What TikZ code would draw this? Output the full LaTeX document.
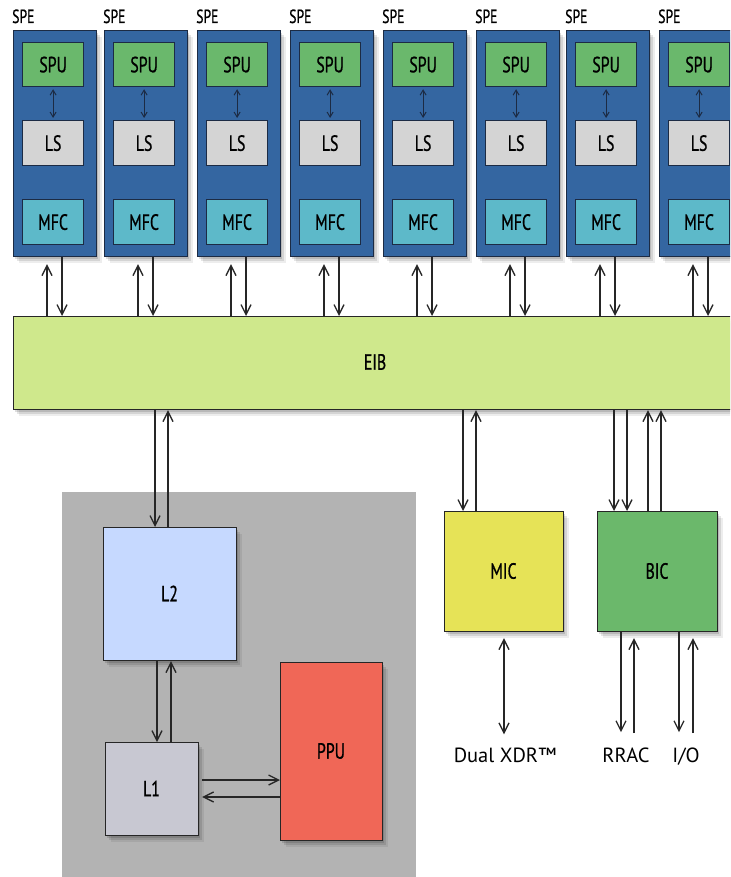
\documentclass[tikz,border=0pt]{standalone}
\usepackage{fontspec}
\setmainfont{PT Sans}
\newfontfamily\condf{PT Sans}[FakeStretch=0.72,FakeBold=0.8]
\usetikzlibrary{arrows.meta,shadows,calc}
\definecolor{speblue}{HTML}{3466A1}
\definecolor{speedge}{HTML}{1C2B44}
\definecolor{spugreen}{HTML}{6AB86C}
\definecolor{lsgray}{HTML}{D4D4D4}
\definecolor{mfccyan}{HTML}{5DB9C9}
\definecolor{eibgreen}{HTML}{CFE88C}
\definecolor{ppegray}{HTML}{B3B3B3}
\definecolor{ltwo}{HTML}{C6D9FF}
\definecolor{lone}{HTML}{C8C8D2}
\definecolor{ppured}{HTML}{F06757}
\definecolor{micyellow}{HTML}{E6E357}
\definecolor{bicgreen}{HTML}{6BB86B}
\begin{document}
\begin{tikzpicture}[x=1pt,y=-1pt,
  softshadow/.style={
    general shadow={shadow xshift=1.5pt,shadow yshift=-2pt,opacity=0.13,fill=black},
    general shadow={shadow xshift=3pt,shadow yshift=-4pt,opacity=0.10,fill=black},
    general shadow={shadow xshift=5pt,shadow yshift=-6pt,opacity=0.07,fill=black}},
  cf/.style={font=\condf\fontsize{22}{22}\selectfont},
  box/.style={draw=black!85,line width=1.2pt,inner sep=0pt,anchor=north west},
  spebox/.style={box,softshadow,fill=speblue,draw=speedge,minimum width=83pt,minimum height=226pt},
  inbox/.style={box,draw=speedge,minimum width=61pt,minimum height=45pt},
  arr/.style={line width=1.3pt,draw=black!85,-{Straight Barb[length=10pt,width=10pt]}},
  darr/.style={line width=1.3pt,draw=black!85,{Straight Barb[length=10pt,width=10pt]}-{Straight Barb[length=10pt,width=10pt]}},
  sarr/.style={line width=1pt,draw=speedge,{Straight Barb[length=5pt,width=6pt]}-{Straight Barb[length=5pt,width=6pt]}},
  lbl/.style={inner sep=0pt,anchor=base,font=\fontsize{20.5}{20.5}\selectfont}]
\clip (0,0) rectangle (730,877);
\fill[white] (0,0) rectangle (730,877);

% PPE region
\node[fill=ppegray,anchor=north west,inner sep=0pt,minimum width=354pt,minimum height=400pt] (ppe) at (62,492) {};

% EIB
\node[box,softshadow,fill=eibgreen,minimum width=724pt,minimum height=93pt] (eib) at (13,316) {};
\node[cf] (eibl) at (375,362) {EIB};

% SPEs
\foreach \x [count=\i] in {13,104,197,290,383,476,566,659}{
  \node[spebox] (spe\i) at (\x,30) {};
  \node[anchor=base west,inner sep=0pt,font=\condf\fontsize{19}{19}\selectfont] (spel\i) at ({\x-1},23) {SPE};
  \node[inbox,fill=spugreen,minimum height=44pt] (spu\i) at ({\x+9},42) {};
  \node[cf] at (spu\i.center) {SPU};
  \node[inbox,fill=lsgray] (ls\i) at ({\x+9},120) {};
  \node[cf] at (ls\i.center) {LS};
  \node[inbox,fill=mfccyan] (mfc\i) at ({\x+9},199) {};
  \node[cf] at (mfc\i.center) {MFC};
  \draw[sarr,shorten <=2pt,shorten >=2pt] (spu\i.south) -- (ls\i.north);
  \coordinate (up\i) at ({\x+34},0);
  \coordinate (dn\i) at ({\x+49},0);
  \draw[arr,shorten >=7pt] (eib.north -| up\i) -- (spe\i.south -| up\i);
  \draw[arr] (spe\i.south -| dn\i) -- (eib.north -| dn\i);
}

% PPE internals
\node[box,softshadow,fill=ltwo,minimum width=133pt,minimum height=133pt] (l2) at (103,527) {};
\node[cf] at (169.5,593.5) {L2};
\node[box,softshadow,fill=lone,minimum width=93pt,minimum height=93pt] (l1) at (105,742) {};
\node[cf] at (151.5,788.5) {L1};
\node[box,softshadow,fill=ppured,minimum width=102pt,minimum height=178pt] (ppu) at (280,662) {};
\node[cf] at (331,751) {PPU};

% MIC, BIC
\node[box,softshadow,fill=micyellow,minimum width=119pt,minimum height=120pt] (mic) at (444,511) {};
\node[cf] at (503.5,571) {MIC};
\node[box,softshadow,fill=bicgreen,minimum width=120pt,minimum height=120pt] (bic) at (597,511) {};
\node[cf] at (657,571) {BIC};

% bottom labels
\node[lbl] (xdr) at (505,762) {Dual XDR™};
\node[lbl] (rrac) at (626,762) {RRAC};
\node[lbl] (io) at (686,762) {I/O};

% EIB <-> L2
\coordinate (a1) at (155,0); \coordinate (a2) at (168,0);
\draw[arr] (eib.south -| a1) -- (l2.north -| a1);
\draw[arr] (l2.north -| a2) -- (eib.south -| a2);
% L2 <-> L1
\coordinate (b1) at (157,0); \coordinate (b2) at (171,0);
\draw[arr] (l2.south -| b1) -- (l1.north -| b1);
\draw[arr] (l1.north -| b2) -- (l2.south -| b2);
% L1 <-> PPU
\coordinate (c1) at (0,780); \coordinate (c2) at (0,797);
\draw[arr,shorten <=3pt] (l1.east |- c1) -- (ppu.west |- c1);
\draw[arr,shorten >=3pt] (ppu.west |- c2) -- (l1.east |- c2);
% EIB <-> MIC
\coordinate (d1) at (463,0); \coordinate (d2) at (476,0);
\draw[arr] (eib.south -| d1) -- (mic.north -| d1);
\draw[arr] (mic.north -| d2) -- (eib.south -| d2);
% EIB <-> BIC
\coordinate (e1) at (614,0); \coordinate (e2) at (627,0);
\coordinate (e3) at (648,0); \coordinate (e4) at (661,0);
\draw[arr] (eib.south -| e1) -- (bic.north -| e1);
\draw[arr] (eib.south -| e2) -- (bic.north -| e2);
\draw[arr] (bic.north -| e3) -- (eib.south -| e3);
\draw[arr] (bic.north -| e4) -- (eib.south -| e4);
% MIC <-> Dual XDR
\coordinate (f1) at (504,0);
\draw[darr,shorten <=6pt,shorten >=13pt] (mic.south -| f1) -- (xdr.north -| f1);
% BIC <-> RRAC, I/O
\coordinate (g1) at (621,0); \coordinate (g2) at (634,0);
\coordinate (g3) at (679,0); \coordinate (g4) at (693,0);
\draw[arr,shorten >=15pt] (bic.south -| g1) -- (rrac.north -| g1);
\draw[arr,shorten <=14pt,shorten >=6pt] (rrac.north -| g2) -- (bic.south -| g2);
\draw[arr,shorten >=15pt] (bic.south -| g3) -- (io.north -| g3);
\draw[arr,shorten <=14pt,shorten >=6pt] (io.north -| g4) -- (bic.south -| g4);
\end{tikzpicture}
\end{document}
